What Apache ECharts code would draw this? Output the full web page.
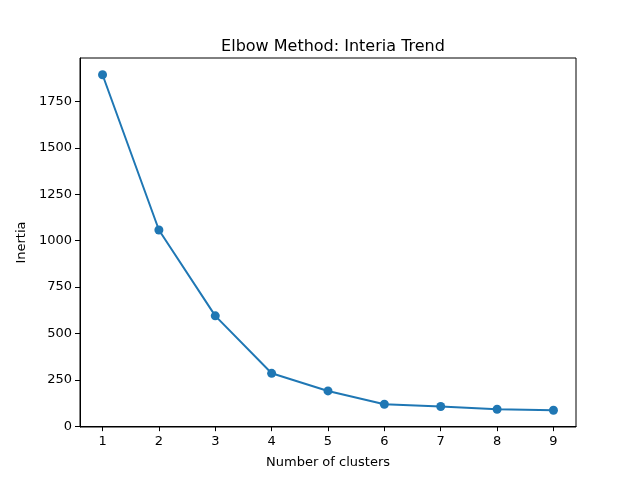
<!DOCTYPE html>
<html lang="en">
<head>
<meta charset="UTF-8">
<title>Elbow Method</title>
<script src="https://cdn.jsdelivr.net/npm/echarts@6/dist/echarts.min.js"></script>
<style>
  html, body { margin: 0; padding: 0; background: #fff; }
  #chart { width: 640px; height: 480px; }
</style>
</head>
<body>
<div id="chart"></div>
<script>
// data
var clusters = [1, 2, 3, 4, 5, 6, 7, 8, 9];
var inertia = [1895, 1058, 595, 285, 190, 118, 106, 91, 86];
var yTicks = [0, 250, 500, 750, 1000, 1250, 1500, 1750];

var points = clusters.map(function (k, i) { return [k, inertia[i]]; });

var chart = echarts.init(document.getElementById('chart'));
var font = 'DejaVu Sans';

chart.setOption({
    animation: false,
    title: {
        text: 'Elbow Method: Interia Trend',
        left: 328,
        top: 34,
        textAlign: 'center',
        textStyle: { fontFamily: font, fontSize: 16, fontWeight: 'normal', color: '#000' }
    },
    grid: {
        left: 80, right: 64, top: 58, bottom: 53,
        show: true, borderColor: '#000', borderWidth: 1
    },
    xAxis: {
        type: 'value',
        min: 0.6, max: 9.4,
        name: 'Number of clusters',
        nameLocation: 'middle',
        nameGap: 29,
        nameTextStyle: { fontFamily: font, fontSize: 13, color: '#000' },
        axisLine: { show: true, lineStyle: { color: '#000', width: 1 } },
        axisTick: { show: true, customValues: clusters, length: 5, lineStyle: { color: '#000' } },
        axisLabel: { customValues: clusters, fontFamily: font, fontSize: 13, color: '#000', margin: 8 },
        splitLine: { show: false }
    },
    yAxis: {
        type: 'value',
        min: -4.5, max: 1985.5,
        name: 'Inertia',
        nameLocation: 'middle',
        nameGap: 52,
        nameRotate: 90,
        nameTextStyle: { fontFamily: font, fontSize: 13, color: '#000' },
        axisLine: { show: true, lineStyle: { color: '#000', width: 1 } },
        axisTick: { show: true, customValues: yTicks, length: 5, lineStyle: { color: '#000' } },
        axisLabel: {
            customValues: yTicks, fontFamily: font, fontSize: 13, color: '#000', margin: 8,
            formatter: function (v) { return String(v); }
        },
        splitLine: { show: false }
    },
    series: [{
        type: 'line',
        data: points,
        symbol: 'circle',
        symbolSize: 9,
        itemStyle: { color: '#1f77b4' },
        lineStyle: { color: '#1f77b4', width: 2 }
    }]
});
</script>
</body>
</html>
